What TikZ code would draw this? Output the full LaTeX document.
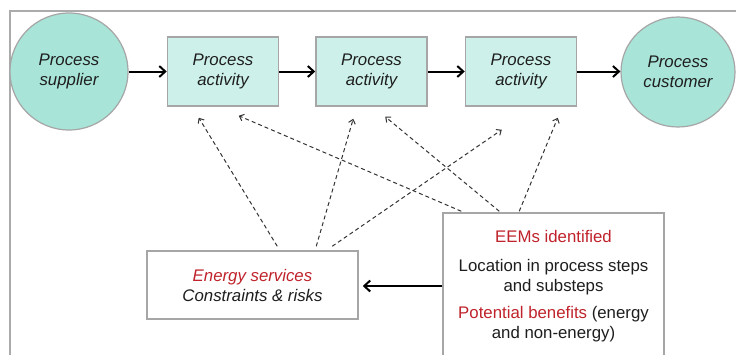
\documentclass[tikz,border=0pt]{standalone}
\usepackage{fontspec}
\setmainfont{Liberation Sans}
\usetikzlibrary{arrows.meta,shapes.geometric}
\definecolor{tealfill}{HTML}{A8E4D8}
\definecolor{boxfill}{HTML}{CDF1EA}
\definecolor{edgegray}{HTML}{A6A6A6}
\definecolor{framegray}{HTML}{ABABAB}
\definecolor{eemred}{HTML}{C0232B}
\definecolor{dashgray}{HTML}{333333}
\definecolor{inkgray}{HTML}{1E1E1E}
\tikzset{
  txt/.style={font=\fontsize{16.8bp}{20bp}\selectfont, align=center, text=inkgray},
  ital/.style={font=\fontsize{16.8bp}{20bp}\selectfont\itshape},
  endpt/.style={txt, ital, ellipse, draw=edgegray, line width=1.2bp, fill=tealfill, inner sep=0pt},
  actbox/.style={txt, ital, rectangle, draw=edgegray, line width=1.5bp, fill=boxfill,
                 minimum width=111bp, minimum height=69bp, inner sep=0pt},
  infobox/.style={txt, rectangle, draw=edgegray, line width=1.5bp, fill=white, inner sep=0pt},
  flow/.style={line width=2bp, -{Straight Barb[length=6bp,width=11bp,line width=2bp]}},
  link/.style={draw=dashgray, line width=1bp, dash pattern=on 4bp off 3bp,
               -{Straight Barb[length=4bp,width=7bp,line width=1bp]}}
}
\begin{document}
\begin{tikzpicture}[x=1bp,y=-1bp]
\useasboundingbox (0,0) rectangle (736,354);
\clip (0,0) rectangle (736,354);

% outer frame
\draw[framegray, line width=1.5bp] (10,380) -- (10,11) -- (760,11);

% process chain
\node[endpt, minimum width=118bp, minimum height=117bp] (sup) at (69,71.5) {Process\\supplier};
\node[actbox] (b1) at (223,71.5) {Process\\activity};
\node[actbox] (b2) at (371.5,71.5) {Process\\activity};
\node[actbox] (b3) at (521,71.5) {Process\\activity};
\node[endpt, minimum width=114bp, minimum height=110bp] (cust) at (678,72) {Process\\customer};

\draw[flow] (sup.east) -- (b1.west);
\draw[flow] (b1.east) -- (b2.west);
\draw[flow] (b2.east) -- (b3.west);
\draw[flow] (b3.east) -- (b3.east -| cust.west);

% information boxes
\node[infobox, ital, minimum width=211bp, minimum height=68bp] (es) at (252.5,285)
  {\textcolor{eemred}{Energy services}\\Constraints \& risks};
\node[infobox, minimum width=221bp, minimum height=146bp] (eem) at (553.5,286)
  {\textcolor{eemred}{EEMs identified}\\[9bp]
   Location in process steps\\and substeps\\[7bp]
   \textcolor{eemred}{Potential benefits} (energy\\and non-energy)};

\draw[flow, shorten >=4bp] (eem.west) -- (eem.west -| es.east);

% link end points below the activities
\coordinate (a1) at ([xshift=32bp, yshift=-11bp]b1.south west);
\coordinate (a2) at ([xshift=72bp, yshift=-9bp]b1.south west);
\coordinate (a3) at ([xshift=38bp, yshift=-12bp]b2.south west);
\coordinate (a4) at ([xshift=70bp, yshift=-10bp]b2.south west);
\coordinate (a5) at ([xshift=37bp, yshift=-23bp]b3.south west);
\coordinate (a6) at ([xshift=93bp, yshift=-11bp]b3.south west);

% link start points on the information boxes
\coordinate (s1) at ([xshift=131bp, yshift=4bp]es.north west);
\coordinate (s2) at ([xshift=170bp, yshift=4bp]es.north west);
\coordinate (s3) at ([xshift=186bp, yshift=4bp]es.north west);
\coordinate (e1) at ([xshift=19bp, yshift=1bp]eem.north west);
\coordinate (e2) at ([xshift=57bp, yshift=1bp]eem.north west);
\coordinate (e3) at ([xshift=77bp, yshift=1bp]eem.north west);

\draw[link] (s1) -- (a1);
\draw[link] (s2) -- (a3);
\draw[link] (s3) -- (a5);
\draw[link] (e1) -- (a2);
\draw[link] (e2) -- (a4);
\draw[link] (e3) -- (a6);
\end{tikzpicture}
\end{document}
